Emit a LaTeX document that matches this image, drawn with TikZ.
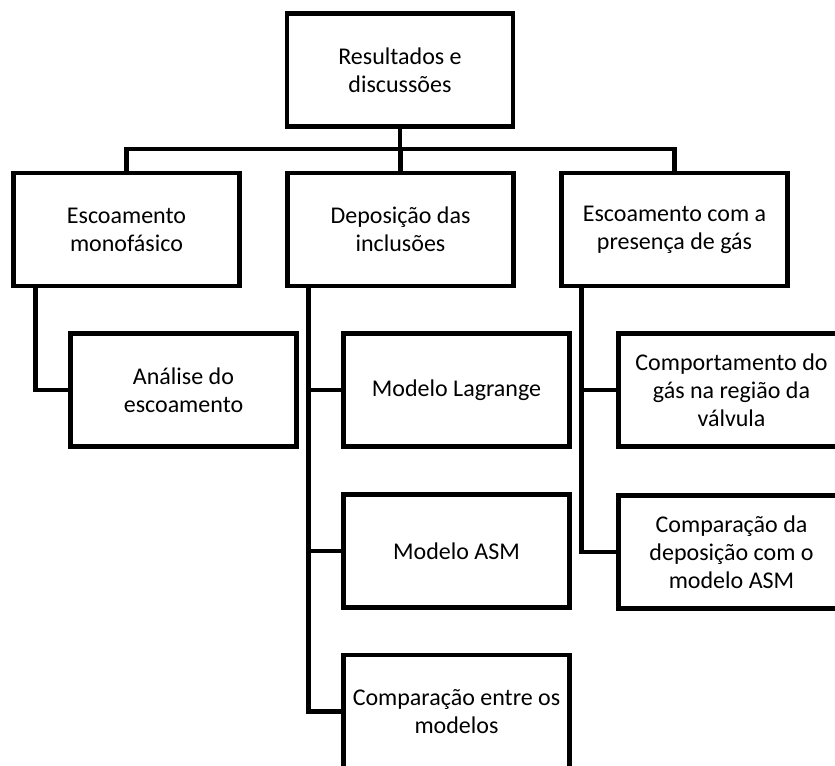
\documentclass[tikz,border=0pt]{standalone}
\usepackage{fontspec}
\setmainfont{Carlito}
\usetikzlibrary{calc}
\begin{document}
\begin{tikzpicture}[x=0.75pt,y=-0.75pt,
  box/.style={draw=black,line width=3.7pt,fill=white,rectangle,
    minimum width=169.5pt,minimum height=84.75pt,inner sep=2pt,
    align=center,font=\fontsize{18}{21}\selectfont},
  conn/.style={line width=3.7pt,black}]
\useasboundingbox (0,0) rectangle (835,765);
\clip (0,0) rectangle (835,765);
\fill[white] (0,0) rectangle (835,765);
\coordinate (busy) at (0,149);
% nodes
\node[box] (top) at (400,70) {Resultados e\\discussões};
\node[box] (esc) at (126.5,229.5) {Escoamento\\monofásico};
\node[box] (dep) at (400.5,229.5) {Deposição das\\inclusões};
\node[box] (gas) at (674.5,229.5) {Escoamento com a\\presença de gás};
\node[box] (ana) at (183.5,390) {Análise do\\escoamento};
\node[box] (lag) at (456.5,390) {Modelo Lagrange};
\node[box] (comp) at (731.5,390) {Comportamento do\\gás na região da\\válvula};
\node[box] (asm) at (456.5,551) {Modelo ASM};
\node[box] (cda) at (731.5,552) {Comparação da\\deposição com o\\modelo ASM};
\node[box] (cmp) at (456.5,711.5) {Comparação entre os\\modelos};
% connectors
\draw[conn] (top.south) -- (top.south |- busy);
\draw[conn] (esc.north) -- (esc.north |- busy) -- (gas.north |- busy) -- (gas.north);
\draw[conn] (dep.north |- busy) -- (dep.north);
\draw[conn] ($(esc.south west)+(24,0)$) |- (ana.west);
\draw[conn] ($(dep.south west)+(23,0)$) |- (cmp.west);
\draw[conn] ($(dep.south west)+(23,0)$) |- (lag.west);
\draw[conn] ($(dep.south west)+(23,0)$) |- (asm.west);
\draw[conn] ($(gas.south west)+(22,0)$) |- (cda.west);
\draw[conn] ($(gas.south west)+(22,0)$) |- (comp.west);
\end{tikzpicture}
\end{document}
